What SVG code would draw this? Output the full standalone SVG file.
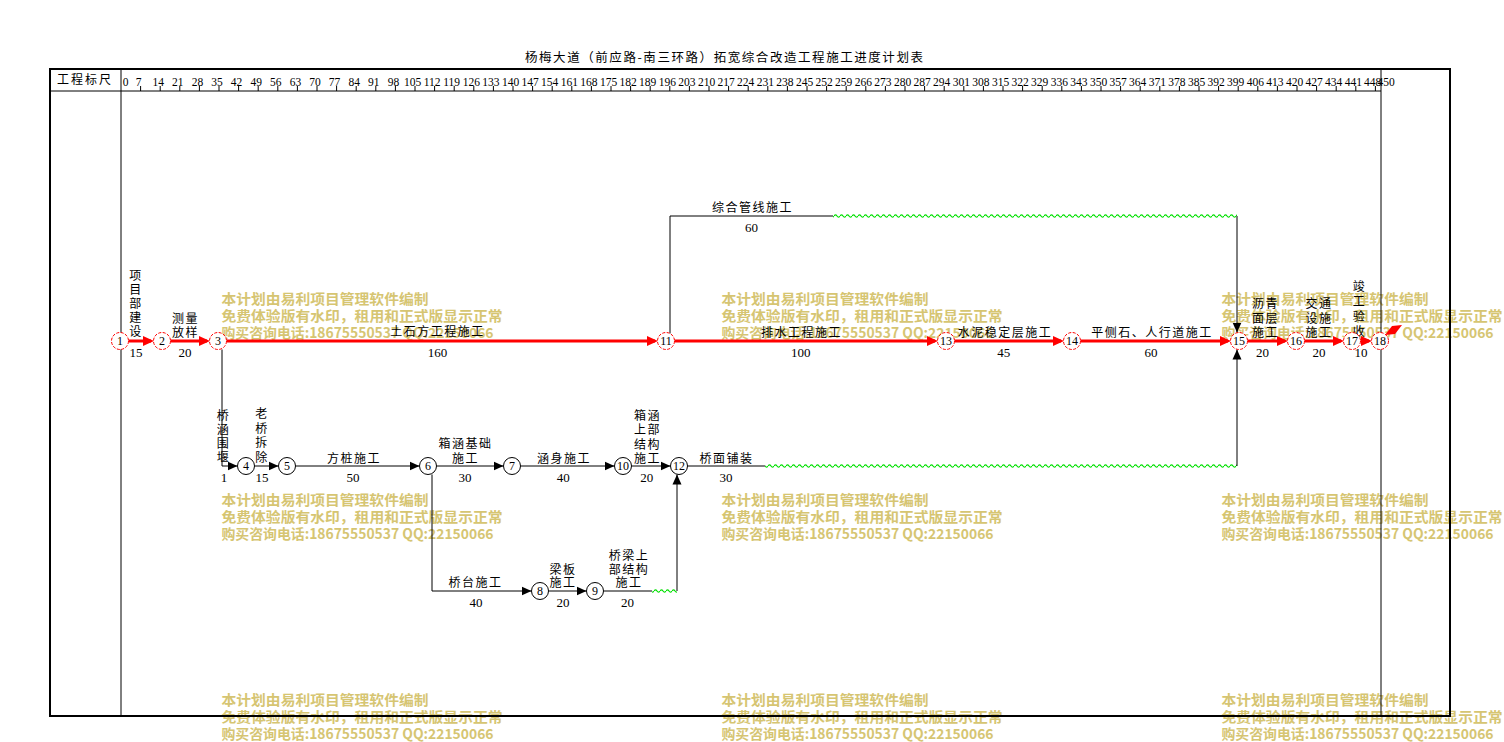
<svg xmlns="http://www.w3.org/2000/svg" width="1504" height="742" viewBox="0 0 1504 742">
<style>
.t{font-family:"Noto Sans CJK SC","Liberation Sans",sans-serif;font-size:12px;letter-spacing:1.5px;fill:#000;text-anchor:middle}
.d{font-family:"Liberation Serif","Noto Sans CJK SC",serif;font-size:13px;fill:#000;text-anchor:middle}
.h{font-family:"Liberation Serif",serif;font-size:11.5px;fill:#000;text-anchor:middle}
.nn{font-family:"Liberation Serif",serif;font-size:12px;fill:#000;text-anchor:middle}
.wm{font-family:"Noto Sans CJK SC","Liberation Sans",sans-serif;font-size:14px;font-weight:bold;fill:#d6c572}
.nr{fill:#fff;stroke:#f00;stroke-width:1;stroke-dasharray:3 1.5}
.nb{fill:#fff;stroke:#000;stroke-width:1}
.cr{fill:none;stroke:#f00;stroke-width:3;marker-end:url(#ar)}
.cb{fill:none;stroke:#000;stroke-width:1}
.ca{fill:none;stroke:#000;stroke-width:1;marker-end:url(#ab)}
.wv{fill:url(#wv)}
</style>
<defs>
<marker id="ar" markerUnits="userSpaceOnUse" markerWidth="11" markerHeight="10" refX="8" refY="5" orient="auto"><path d="M0,0 L11,5 L0,10z" fill="#f00"/></marker>
<marker id="ab" markerUnits="userSpaceOnUse" markerWidth="10" markerHeight="10" refX="10" refY="5" orient="auto"><path d="M0,0.5 L10,5 L0,9.5z" fill="#000"/></marker>
<pattern id="wv" x="0" y="-3" width="6" height="6" patternUnits="userSpaceOnUse"><path d="M0,3 Q1.5,0.6 3,3 T6,3" fill="none" stroke="#00e000" stroke-width="1.2"/></pattern>
</defs>
<rect width="1504" height="742" fill="#fff"/>

<g id="watermarks">
<g transform="translate(221.5,0)">
<text class="wm" x="0" y="304" textLength="207" lengthAdjust="spacingAndGlyphs">本计划由易利项目管理软件编制</text>
<text class="wm" x="0" y="321" textLength="281" lengthAdjust="spacingAndGlyphs">免费体验版有水印，租用和正式版显示正常</text>
<text class="wm" x="0" y="338" textLength="272" lengthAdjust="spacingAndGlyphs">购买咨询电话:18675550537 QQ:22150066</text>
<text class="wm" x="0" y="504.5" textLength="207" lengthAdjust="spacingAndGlyphs">本计划由易利项目管理软件编制</text>
<text class="wm" x="0" y="521.5" textLength="281" lengthAdjust="spacingAndGlyphs">免费体验版有水印，租用和正式版显示正常</text>
<text class="wm" x="0" y="538.5" textLength="272" lengthAdjust="spacingAndGlyphs">购买咨询电话:18675550537 QQ:22150066</text>
<text class="wm" x="0" y="705" textLength="207" lengthAdjust="spacingAndGlyphs">本计划由易利项目管理软件编制</text>
<text class="wm" x="0" y="722" textLength="281" lengthAdjust="spacingAndGlyphs">免费体验版有水印，租用和正式版显示正常</text>
<text class="wm" x="0" y="739" textLength="272" lengthAdjust="spacingAndGlyphs">购买咨询电话:18675550537 QQ:22150066</text>
</g>
<g transform="translate(721.5,0)">
<text class="wm" x="0" y="304" textLength="207" lengthAdjust="spacingAndGlyphs">本计划由易利项目管理软件编制</text>
<text class="wm" x="0" y="321" textLength="281" lengthAdjust="spacingAndGlyphs">免费体验版有水印，租用和正式版显示正常</text>
<text class="wm" x="0" y="338" textLength="272" lengthAdjust="spacingAndGlyphs">购买咨询电话:18675550537 QQ:22150066</text>
<text class="wm" x="0" y="504.5" textLength="207" lengthAdjust="spacingAndGlyphs">本计划由易利项目管理软件编制</text>
<text class="wm" x="0" y="521.5" textLength="281" lengthAdjust="spacingAndGlyphs">免费体验版有水印，租用和正式版显示正常</text>
<text class="wm" x="0" y="538.5" textLength="272" lengthAdjust="spacingAndGlyphs">购买咨询电话:18675550537 QQ:22150066</text>
<text class="wm" x="0" y="705" textLength="207" lengthAdjust="spacingAndGlyphs">本计划由易利项目管理软件编制</text>
<text class="wm" x="0" y="722" textLength="281" lengthAdjust="spacingAndGlyphs">免费体验版有水印，租用和正式版显示正常</text>
<text class="wm" x="0" y="739" textLength="272" lengthAdjust="spacingAndGlyphs">购买咨询电话:18675550537 QQ:22150066</text>
</g>
<g transform="translate(1221.5,0)">
<text class="wm" x="0" y="304" textLength="207" lengthAdjust="spacingAndGlyphs">本计划由易利项目管理软件编制</text>
<text class="wm" x="0" y="321" textLength="281" lengthAdjust="spacingAndGlyphs">免费体验版有水印，租用和正式版显示正常</text>
<text class="wm" x="0" y="338" textLength="272" lengthAdjust="spacingAndGlyphs">购买咨询电话:18675550537 QQ:22150066</text>
<text class="wm" x="0" y="504.5" textLength="207" lengthAdjust="spacingAndGlyphs">本计划由易利项目管理软件编制</text>
<text class="wm" x="0" y="521.5" textLength="281" lengthAdjust="spacingAndGlyphs">免费体验版有水印，租用和正式版显示正常</text>
<text class="wm" x="0" y="538.5" textLength="272" lengthAdjust="spacingAndGlyphs">购买咨询电话:18675550537 QQ:22150066</text>
<text class="wm" x="0" y="705" textLength="207" lengthAdjust="spacingAndGlyphs">本计划由易利项目管理软件编制</text>
<text class="wm" x="0" y="722" textLength="281" lengthAdjust="spacingAndGlyphs">免费体验版有水印，租用和正式版显示正常</text>
<text class="wm" x="0" y="739" textLength="272" lengthAdjust="spacingAndGlyphs">购买咨询电话:18675550537 QQ:22150066</text>
</g>
</g>

<g id="frame">
<text x="525" y="62" font-family="Noto Sans CJK SC, sans-serif" font-size="12.5" textLength="398" lengthAdjust="spacing">杨梅大道（前应路-南三环路）拓宽综合改造工程施工进度计划表</text>
<rect x="50" y="69" width="1400" height="647" fill="none" stroke="#000" stroke-width="2"/>
<path d="M121,69V716M1381,69V716M50,91H1381" stroke="#000" stroke-width="1" fill="none"/>
<text x="85" y="84" font-family="Noto Sans CJK SC, sans-serif" font-size="12" letter-spacing="2" text-anchor="middle">工程标尺</text>
</g>

<g id="scale">
<path stroke="#000" stroke-width="1" fill="none" d="M140.6,86V91M160.2,86V91M179.8,86V91M199.4,86V91M219,86V91M238.6,86V91M258.2,86V91M277.8,86V91M297.4,86V91M317,86V91M336.6,86V91M356.2,86V91M375.8,86V91M395.4,86V91M415,86V91M434.6,86V91M454.2,86V91M473.8,86V91M493.4,86V91M513,86V91M532.6,86V91M552.2,86V91M571.8,86V91M591.4,86V91M611,86V91M630.6,86V91M650.2,86V91M669.8,86V91M689.4,86V91M709,86V91M728.6,86V91M748.2,86V91M767.8,86V91M787.4,86V91M807,86V91M826.6,86V91M846.2,86V91M865.8,86V91M885.4,86V91M905,86V91M924.6,86V91M944.2,86V91M963.8,86V91M983.4,86V91M1003,86V91M1022.6,86V91M1042.2,86V91M1061.8,86V91M1081.4,86V91M1101,86V91M1120.6,86V91M1140.2,86V91M1159.8,86V91M1179.4,86V91M1199,86V91M1218.6,86V91M1238.2,86V91M1257.8,86V91M1277.4,86V91M1297,86V91M1316.6,86V91M1336.2,86V91M1355.8,86V91M1375.4,86V91"/>
<text class="h" x="125.5" y="85.5">0</text>
<text class="h" x="138.6" y="85.5">7</text>
<text class="h" x="158.2" y="85.5">14</text>
<text class="h" x="177.8" y="85.5">21</text>
<text class="h" x="197.4" y="85.5">28</text>
<text class="h" x="217" y="85.5">35</text>
<text class="h" x="236.6" y="85.5">42</text>
<text class="h" x="256.2" y="85.5">49</text>
<text class="h" x="275.8" y="85.5">56</text>
<text class="h" x="295.4" y="85.5">63</text>
<text class="h" x="315" y="85.5">70</text>
<text class="h" x="334.6" y="85.5">77</text>
<text class="h" x="354.2" y="85.5">84</text>
<text class="h" x="373.8" y="85.5">91</text>
<text class="h" x="393.4" y="85.5">98</text>
<text class="h" x="412.5" y="85.5">105</text>
<text class="h" x="432.1" y="85.5">112</text>
<text class="h" x="451.7" y="85.5">119</text>
<text class="h" x="471.3" y="85.5">126</text>
<text class="h" x="490.9" y="85.5">133</text>
<text class="h" x="510.5" y="85.5">140</text>
<text class="h" x="530.1" y="85.5">147</text>
<text class="h" x="549.7" y="85.5">154</text>
<text class="h" x="569.3" y="85.5">161</text>
<text class="h" x="588.9" y="85.5">168</text>
<text class="h" x="608.5" y="85.5">175</text>
<text class="h" x="628.1" y="85.5">182</text>
<text class="h" x="647.7" y="85.5">189</text>
<text class="h" x="667.3" y="85.5">196</text>
<text class="h" x="686.9" y="85.5">203</text>
<text class="h" x="706.5" y="85.5">210</text>
<text class="h" x="726.1" y="85.5">217</text>
<text class="h" x="745.7" y="85.5">224</text>
<text class="h" x="765.3" y="85.5">231</text>
<text class="h" x="784.9" y="85.5">238</text>
<text class="h" x="804.5" y="85.5">245</text>
<text class="h" x="824.1" y="85.5">252</text>
<text class="h" x="843.7" y="85.5">259</text>
<text class="h" x="863.3" y="85.5">266</text>
<text class="h" x="882.9" y="85.5">273</text>
<text class="h" x="902.5" y="85.5">280</text>
<text class="h" x="922.1" y="85.5">287</text>
<text class="h" x="941.7" y="85.5">294</text>
<text class="h" x="961.3" y="85.5">301</text>
<text class="h" x="980.9" y="85.5">308</text>
<text class="h" x="1000.5" y="85.5">315</text>
<text class="h" x="1020.1" y="85.5">322</text>
<text class="h" x="1039.7" y="85.5">329</text>
<text class="h" x="1059.3" y="85.5">336</text>
<text class="h" x="1078.9" y="85.5">343</text>
<text class="h" x="1098.5" y="85.5">350</text>
<text class="h" x="1118.1" y="85.5">357</text>
<text class="h" x="1137.7" y="85.5">364</text>
<text class="h" x="1157.3" y="85.5">371</text>
<text class="h" x="1176.9" y="85.5">378</text>
<text class="h" x="1196.5" y="85.5">385</text>
<text class="h" x="1216.1" y="85.5">392</text>
<text class="h" x="1235.7" y="85.5">399</text>
<text class="h" x="1255.3" y="85.5">406</text>
<text class="h" x="1274.9" y="85.5">413</text>
<text class="h" x="1294.5" y="85.5">420</text>
<text class="h" x="1314.1" y="85.5">427</text>
<text class="h" x="1333.7" y="85.5">434</text>
<text class="h" x="1353.3" y="85.5">441</text>
<text class="h" x="1372.5" y="85.5">448</text>
<text class="h" x="1386" y="85.5" text-anchor="start">450</text>
</g>

<g id="connectors">
<path class="cr" d="M128.5,341H151"/>
<path class="cr" d="M170.5,341H207"/>
<path class="cr" d="M226.5,341H655"/>
<path class="cr" d="M674.5,341H935"/>
<path class="cr" d="M954.5,341H1061"/>
<path class="cr" d="M1080.5,341H1228"/>
<path class="cr" d="M1247.5,341H1285"/>
<path class="cr" d="M1304.5,341H1341"/>
<path class="cr" d="M1360.5,341H1369"/>
<polygon points="1385,335 1392,326 1402,325 1395,334" fill="#f00"/>
<path class="cb" d="M670,333.5V216H833"/>
<rect class="wv" x="833" y="-3" width="404" height="6" transform="translate(0,216)"/>
<path class="ca" d="M1237,216V332.5"/>
<path class="ca" d="M222,349.5V466H237.5"/>
<path class="ca" d="M254.5,466H278.5"/>
<path class="ca" d="M295.5,466H419.5"/>
<path class="ca" d="M436.5,466H503.5"/>
<path class="ca" d="M520.5,466H614.5"/>
<path class="ca" d="M631.5,466H670.5"/>
<path class="cb" d="M687.5,466H765"/>
<rect class="wv" x="765" y="-3" width="472" height="6" transform="translate(0,466)"/>
<path class="ca" d="M1237,466V349.5"/>
<path class="ca" d="M432,474.5V591H531.5"/>
<path class="ca" d="M548.5,591H586.5"/>
<path class="cb" d="M603.5,591H652"/>
<rect class="wv" x="652" y="-3" width="25" height="6" transform="translate(0,591)"/>
<path class="ca" d="M677,591V474.5"/>

<text class="t"><tspan x="136" y="279.5">项</tspan><tspan x="136" y="293.5">目</tspan><tspan x="136" y="307.5">部</tspan><tspan x="136" y="321.5">建</tspan><tspan x="136" y="335.5">设</tspan></text>
<text class="d" x="136" y="356.5">15</text>
<text class="t"><tspan x="185.5" y="322.5">测量</tspan><tspan x="185.5" y="336.5">放样</tspan></text>
<text class="d" x="185" y="356.5">20</text>
<text class="t" x="437.5" y="336">土石方工程施工</text>
<text class="d" x="437.5" y="356.5">160</text>
<text class="t" x="752.5" y="212">综合管线施工</text>
<text class="d" x="751.5" y="232">60</text>
<text class="t" x="801.5" y="336.5">排水工程施工</text>
<text class="d" x="800.7" y="356.5">100</text>
<text class="t" x="1005" y="336.5">水泥稳定层施工</text>
<text class="d" x="1003.7" y="356.5">45</text>
<text class="t" x="1152" y="336.5">平侧石、人行道施工</text>
<text class="d" x="1151" y="356.5">60</text>
<text class="t"><tspan x="1265.5" y="308">沥青</tspan><tspan x="1265.5" y="322.5">面层</tspan><tspan x="1265.5" y="337">施工</tspan></text>
<text class="d" x="1262.5" y="356.5">20</text>
<text class="t"><tspan x="1319" y="308">交通</tspan><tspan x="1319" y="322.5">设施</tspan><tspan x="1319" y="337">施工</tspan></text>
<text class="d" x="1319" y="356.5">20</text>
<text class="t"><tspan x="1359.5" y="290.5">竣</tspan><tspan x="1359.5" y="305.5">工</tspan><tspan x="1359.5" y="320.5">验</tspan><tspan x="1359.5" y="335.5">收</tspan></text>
<text class="d" x="1361" y="356.5">10</text>

<text class="t"><tspan x="223.5" y="419.5">桥</tspan><tspan x="223.5" y="433.5">涵</tspan><tspan x="223.5" y="447.5">围</tspan><tspan x="223.5" y="461.5">堰</tspan></text>
<text class="d" x="224" y="481.5">1</text>
<text class="t"><tspan x="262" y="418">老</tspan><tspan x="262" y="432.5">桥</tspan><tspan x="262" y="447">拆</tspan><tspan x="262" y="461.5">除</tspan></text>
<text class="d" x="262" y="481.5">15</text>
<text class="t" x="354" y="463">方桩施工</text>
<text class="d" x="353" y="481.5">50</text>
<text class="t"><tspan x="465.5" y="448">箱涵基础</tspan><tspan x="465.5" y="463">施工</tspan></text>
<text class="d" x="465" y="481.5">30</text>
<text class="t" x="564" y="463">涵身施工</text>
<text class="d" x="563.3" y="481.5">40</text>
<text class="t"><tspan x="647.5" y="419.5">箱涵</tspan><tspan x="647.5" y="434">上部</tspan><tspan x="647.5" y="448.5">结构</tspan><tspan x="647.5" y="463">施工</tspan></text>
<text class="d" x="646.7" y="481.5">20</text>
<text class="t" x="726.5" y="463">桥面铺装</text>
<text class="d" x="726" y="481.5">30</text>

<text class="t" x="475.5" y="587">桥台施工</text>
<text class="d" x="476" y="606.5">40</text>
<text class="t"><tspan x="563" y="573.5">梁板</tspan><tspan x="563" y="587">施工</tspan></text>
<text class="d" x="563" y="606.5">20</text>
<text class="t"><tspan x="629" y="560">桥梁上</tspan><tspan x="629" y="573.5">部结构</tspan><tspan x="629" y="587">施工</tspan></text>
<text class="d" x="627.5" y="606.5">20</text>
</g>

<g id="node1"><circle class="nr" cx="120" cy="341" r="8.5"/><text class="nn" x="120" y="345.2">1</text></g>
<g id="node2"><circle class="nr" cx="162" cy="341" r="8.5"/><text class="nn" x="162" y="345.2">2</text></g>
<g id="node3"><circle class="nr" cx="218" cy="341" r="8.5"/><text class="nn" x="218" y="345.2">3</text></g>
<g id="node11"><circle class="nr" cx="666" cy="341" r="8.5"/><text class="nn" x="666" y="345.2">11</text></g>
<g id="node13"><circle class="nr" cx="946" cy="341" r="8.5"/><text class="nn" x="946" y="345.2">13</text></g>
<g id="node14"><circle class="nr" cx="1072" cy="341" r="8.5"/><text class="nn" x="1072" y="345.2">14</text></g>
<g id="node15"><circle class="nr" cx="1239" cy="341" r="8.5"/><text class="nn" x="1239" y="345.2">15</text></g>
<g id="node16"><circle class="nr" cx="1296" cy="341" r="8.5"/><text class="nn" x="1296" y="345.2">16</text></g>
<g id="node17"><circle class="nr" cx="1352" cy="341" r="8.5"/><text class="nn" x="1352" y="345.2">17</text></g>
<g id="node18"><circle class="nr" cx="1380" cy="341" r="8.5"/><text class="nn" x="1380" y="345.2">18</text></g>
<g id="node4"><circle class="nb" cx="246" cy="466" r="8.5"/><text class="nn" x="246" y="470.2">4</text></g>
<g id="node5"><circle class="nb" cx="287" cy="466" r="8.5"/><text class="nn" x="287" y="470.2">5</text></g>
<g id="node6"><circle class="nb" cx="428" cy="466" r="8.5"/><text class="nn" x="428" y="470.2">6</text></g>
<g id="node7"><circle class="nb" cx="512" cy="466" r="8.5"/><text class="nn" x="512" y="470.2">7</text></g>
<g id="node10"><circle class="nb" cx="623" cy="466" r="8.5"/><text class="nn" x="623" y="470.2">10</text></g>
<g id="node12"><circle class="nb" cx="679" cy="466" r="8.5"/><text class="nn" x="679" y="470.2">12</text></g>
<g id="node8"><circle class="nb" cx="540" cy="591" r="8.5"/><text class="nn" x="540" y="595.2">8</text></g>
<g id="node9"><circle class="nb" cx="595" cy="591" r="8.5"/><text class="nn" x="595" y="595.2">9</text></g>
</svg>
